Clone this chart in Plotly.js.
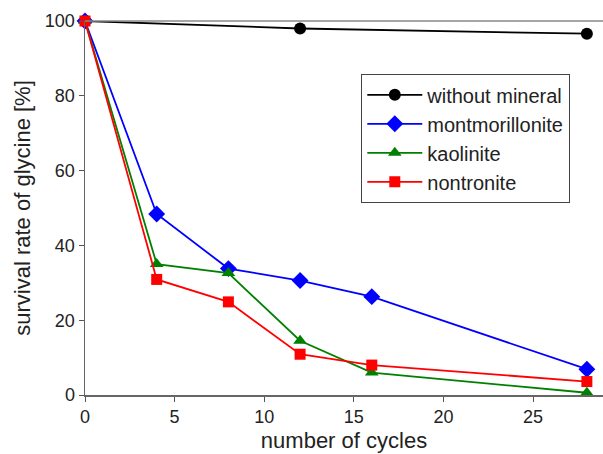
<!DOCTYPE html>
<html><head><meta charset="utf-8">
<script src="https://cdn.plot.ly/plotly-3.0.1.min.js"></script>
<style>html,body{margin:0;padding:0;background:#fff}#c{width:603px;height:454px}</style>
</head><body><div id="c"></div>
<script>
const cycles = [0, 4, 8, 12, 16, 28];
const cyclesNoMineral = [0, 12, 28];
const withoutMineral = [100, 98.0, 96.6];
const montmorillonite = [100, 48.4, 33.8, 30.6, 26.3, 6.9];
const kaolinite = [100, 35.0, 32.6, 14.5, 6.0, 0.6];
const nontronite = [100, 30.9, 24.9, 10.9, 8.0, 3.6];
const xTicks = [0, 5, 10, 15, 20, 25];
const yTicks = [0, 20, 40, 60, 80, 100];

const traces = [
  {x: cyclesNoMineral, y: withoutMineral, name: 'without mineral', mode: 'lines+markers',
   line: {color: '#000000', width: 1.8}, marker: {symbol: 'circle', size: 12, color: '#000000'}, cliponaxis: false},
  {x: cycles, y: montmorillonite, name: 'montmorillonite', mode: 'lines+markers',
   line: {color: '#0000ff', width: 1.8}, marker: {symbol: 'diamond', size: 13, color: '#0000ff'}, cliponaxis: false},
  {x: cycles, y: kaolinite, name: 'kaolinite', mode: 'lines+markers',
   line: {color: '#008000', width: 1.8}, marker: {symbol: 'triangle-up', size: 12, color: '#008000'}, cliponaxis: false},
  {x: cycles, y: nontronite, name: 'nontronite', mode: 'lines+markers',
   line: {color: '#ff0000', width: 1.8}, marker: {symbol: 'square', size: 11, color: '#ff0000'}, cliponaxis: false}
];

const layout = {
  width: 603, height: 454,
  margin: {l: 85, r: 0, t: 21, b: 59},
  paper_bgcolor: '#fff', plot_bgcolor: '#fff',
  font: {family: 'Liberation Sans, Arial, sans-serif', color: '#222', size: 18},
  showlegend: true,
  legend: {x: 0.533, y: 0.858, xanchor: 'left', yanchor: 'top', bgcolor: '#fff',
           bordercolor: '#444', borderwidth: 1.2, font: {size: 20, color: '#222'},
           tracegroupgap: 0, itemwidth: 55},
  xaxis: {range: [0, 28.9], tickvals: xTicks, ticks: 'outside', ticklen: 5, tickcolor: '#555',
          showgrid: false, zeroline: false, showline: true, linecolor: '#666', linewidth: 1.5,
          mirror: false, tickfont: {size: 18},
          title: {text: 'number of cycles', font: {size: 22}, standoff: 6}},
  yaxis: {range: [0, 100], tickvals: yTicks, ticks: 'outside', ticklen: 5, tickcolor: '#555',
          showgrid: false, zeroline: false, showline: true, linecolor: '#666', linewidth: 1.5,
          tickfont: {size: 18},
          title: {text: 'survival rate of glycine [%]', font: {size: 22}, standoff: 8}},
  shapes: [{type: 'line', xref: 'paper', yref: 'paper', x0: 0, x1: 1, y0: 1, y1: 1,
            line: {color: '#888', width: 1.5}}]
};
Plotly.newPlot('c', traces, layout, {displayModeBar: false, staticPlot: true});
</script></body></html>
